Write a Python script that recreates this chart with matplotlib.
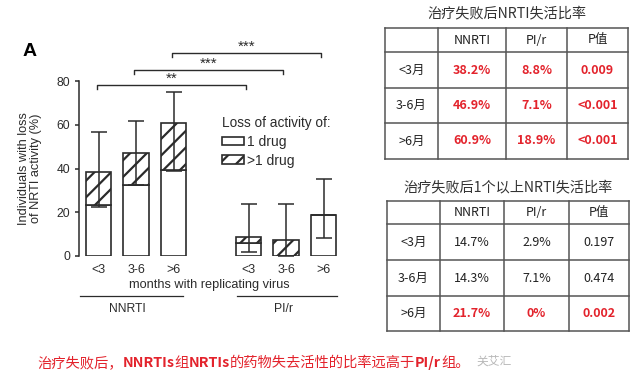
import matplotlib
matplotlib.use("Agg")
import matplotlib.pyplot as plt
from matplotlib.patches import Patch

plt.rcParams["hatch.linewidth"] = 1.6
plt.rcParams["hatch.color"] = "#2b2b2b"

# --- chart data (percent of individuals) ---
months = ["<3", "3-6", ">6"]
groups = ["NNRTI", "PI/r"]
nnrti_total = [38.2, 46.9, 60.9]
nnrti_multi = [14.7, 14.3, 21.7]
pir_total = [8.8, 7.1, 18.9]
pir_multi = [2.9, 7.1, 0.0]
nnrti_ci_lo = [22.3, 32.5, 39.0]
nnrti_ci_hi = [56.5, 61.8, 75.0]
pir_ci_lo = [2.0, 0.0, 8.1]
pir_ci_hi = [24.0, 23.8, 35.2]
sig_pairs = [(0, 4), (1, 5), (2, 6)]
sig_marks = ["**", "***", "***"]

# --- tables ---
tab_cols = ["NNRTI", "PI/r", "P值"]
tab_rows = ["<3月", "3-6月", ">6月"]
t1_title = "治疗失败后NRTI失活比率"
t1_nnrti = ["38.2%", "46.9%", "60.9%"]
t1_pir = ["8.8%", "7.1%", "18.9%"]
t1_p = ["0.009", "<0.001", "<0.001"]
t2_title = "治疗失败后1个以上NRTI失活比率"
t2_nnrti = ["14.7%", "14.3%", "21.7%"]
t2_pir = ["2.9%", "7.1%", "0%"]
t2_p = ["0.197", "0.474", "0.002"]

RED = "#e3232c"
INK = "#2b2b2b"
CJK = ["Noto Sans CJK SC", "DejaVu Sans"]
LAT = ["Liberation Sans", "DejaVu Sans"]

W, H = 636, 387
fig = plt.figure(figsize=(W / 100, H / 100), dpi=100)

# full-figure canvas in pixel units for tables and captions
cv = fig.add_axes([0, 0, 1, 1])
cv.set_xlim(0, W)
cv.set_ylim(H, 0)
cv.axis("off")

# ---------------- bar chart ----------------
ax = fig.add_axes([79 / W, (H - 256) / H, 261 / W, 175 / H])
pos = [0, 1, 2, 4, 5, 6]
total = nnrti_total + pir_total
multi = nnrti_multi + pir_multi
single = [t - m for t, m in zip(total, multi)]
lo = nnrti_ci_lo + pir_ci_lo
hi = nnrti_ci_hi + pir_ci_hi
bw = 0.667

ax.bar(pos, single, bw, color="white", edgecolor=INK, linewidth=1.2)
ax.bar(pos, multi, bw, bottom=single, color="white", edgecolor=INK,
       linewidth=1.2, hatch="//")
ax.errorbar(pos, total, yerr=[[t - l for t, l in zip(total, lo)],
                              [h - t for t, h in zip(total, hi)]],
            fmt="none", ecolor=INK, elinewidth=1.1, capsize=5.5, capthick=1.1,
            zorder=3)

ax.set_xlim(-0.52, 6.44)
ax.set_ylim(0, 80)
ax.set_yticks([0, 20, 40, 60, 80])
ax.set_xticks(pos)
ax.set_xticklabels(months * 2)
for s in ["top", "right", "bottom"]:
    ax.spines[s].set_visible(False)
ax.spines["left"].set_color(INK)
ax.spines["left"].set_linewidth(1.1)
ax.tick_params(axis="x", length=0, pad=6, labelsize=9, colors=INK)
ax.tick_params(axis="y", length=3, width=1.1, labelsize=8.7, colors=INK)
for t in ax.get_xticklabels() + ax.get_yticklabels():
    t.set_family(LAT)
ax.set_xlabel("months with replicating virus", family=LAT, fontsize=9.2,
              color=INK, labelpad=2)
ax.set_ylabel("Individuals with loss\nof NRTI activity (%)", family=LAT,
              fontsize=9.2, color=INK, linespacing=1.05)
ax.yaxis.set_label_coords(-0.14, 0.5)

# significance brackets
for (a, b), mark, yb in zip(sig_pairs, sig_marks, [78.2, 85.0, 92.9]):
    xa, xb = a - 0.05, b - 0.07
    ax.plot([xa, xa, xb, xb], [yb - 2, yb, yb, yb - 2], color=INK, lw=1.0,
            clip_on=False)
    ax.text((xa + xb) / 2, yb - 0.3, mark, ha="center", va="bottom",
            fontsize=11, color=INK, family=LAT, clip_on=False)

# group lines under the axis
tr = ax.get_xaxis_transform()
for (xa, xb), name in zip([(-0.49, 2.25), (3.69, 6.36)], groups):
    ax.plot([xa, xb], [-0.229, -0.229], color=INK, lw=0.9, transform=tr,
            clip_on=False)
    ax.text((xa + xb) / 2 - 0.1, -0.30, name, transform=tr, ha="center",
            va="center", fontsize=8.7, family=LAT, color=INK)

handles = [Patch(facecolor="white", edgecolor=INK, linewidth=1.2),
           Patch(facecolor="white", edgecolor=INK, linewidth=1.2, hatch="//")]
leg = ax.legend(handles, ["1 drug", ">1 drug"], title="Loss of activity of:",
                frameon=False, loc="upper left", bbox_to_anchor=(0.52, 0.84),
                prop={"family": LAT, "size": 10}, handlelength=1.6,
                handleheight=0.6, handletextpad=0.25, labelspacing=0.35,
                borderpad=0.0, alignment="left")
leg.get_title().set_family(LAT)
leg.get_title().set_fontsize(9.8)
for t in leg.get_texts() + [leg.get_title()]:
    t.set_color(INK)

fig.text(23 / W, 1 - 51 / H, "A", fontsize=14, fontweight="bold",
         family=LAT, va="center", ha="left", color="black")


# ---------------- tables ----------------
def draw_table(xs, ys, title, ty, cols, nn, pr, pv, red_rows):
    for x in xs:
        cv.plot([x, x], [ys[0], ys[-1]], color="#555555", lw=1.1)
    for y in ys:
        cv.plot([xs[0], xs[-1]], [y, y], color="#555555", lw=1.1)
    cv.text((xs[0] + xs[-1]) / 2, ty, title, ha="center", va="center",
            fontsize=10.2, family=CJK, color="#333333")
    cx = [(xs[i] + xs[i + 1]) / 2 for i in range(len(xs) - 1)]
    cy = [(ys[i] + ys[i + 1]) / 2 for i in range(len(ys) - 1)]
    for j, c in enumerate(cols):
        cv.text(cx[j + 1], cy[0], c, ha="center", va="center", fontsize=9,
                family=CJK, color="#222222")
    for i, r in enumerate(tab_rows):
        cv.text(cx[0], cy[i + 1], r, ha="center", va="center", fontsize=9,
                family=CJK, color="#222222")
        red = i in red_rows
        for j, v in enumerate([nn[i], pr[i], pv[i]]):
            cv.text(cx[j + 1], cy[i + 1], v, ha="center", va="center",
                    fontsize=9, family=CJK, color=RED if red else "#222222",
                    fontweight="bold" if red else "normal")


draw_table([385, 438, 506, 567, 628], [28, 52, 88, 123, 159], t1_title, 13,
           tab_cols, t1_nnrti, t1_pir, t1_p, [0, 1, 2])
draw_table([387, 440, 504, 569, 629], [201, 224, 260, 296, 331], t2_title, 187,
           tab_cols, t2_nnrti, t2_pir, t2_p, [2])

# ---------------- caption (mixed weight) ----------------
caption = [("治疗失败后，", "normal"), ("NNRTIs", "bold"), ("组", "normal"),
           ("NRTIs", "bold"), ("的药物失去活性的比率远高于", "normal"),
           ("PI/r", "bold"), ("组。", "normal")]
renderer = fig.canvas.get_renderer()
x = 37
for txt, wt in caption:
    t = cv.text(x, 363, txt, ha="left", va="center", fontsize=10.3,
                family=CJK, fontweight=wt, color=RED)
    x += t.get_window_extent(renderer).width

cv.text(476, 361, "关艾汇", ha="left", va="center", fontsize=8.5,
        family=CJK, color="#b8b8b8")

fig.savefig("out.png", dpi=100)
